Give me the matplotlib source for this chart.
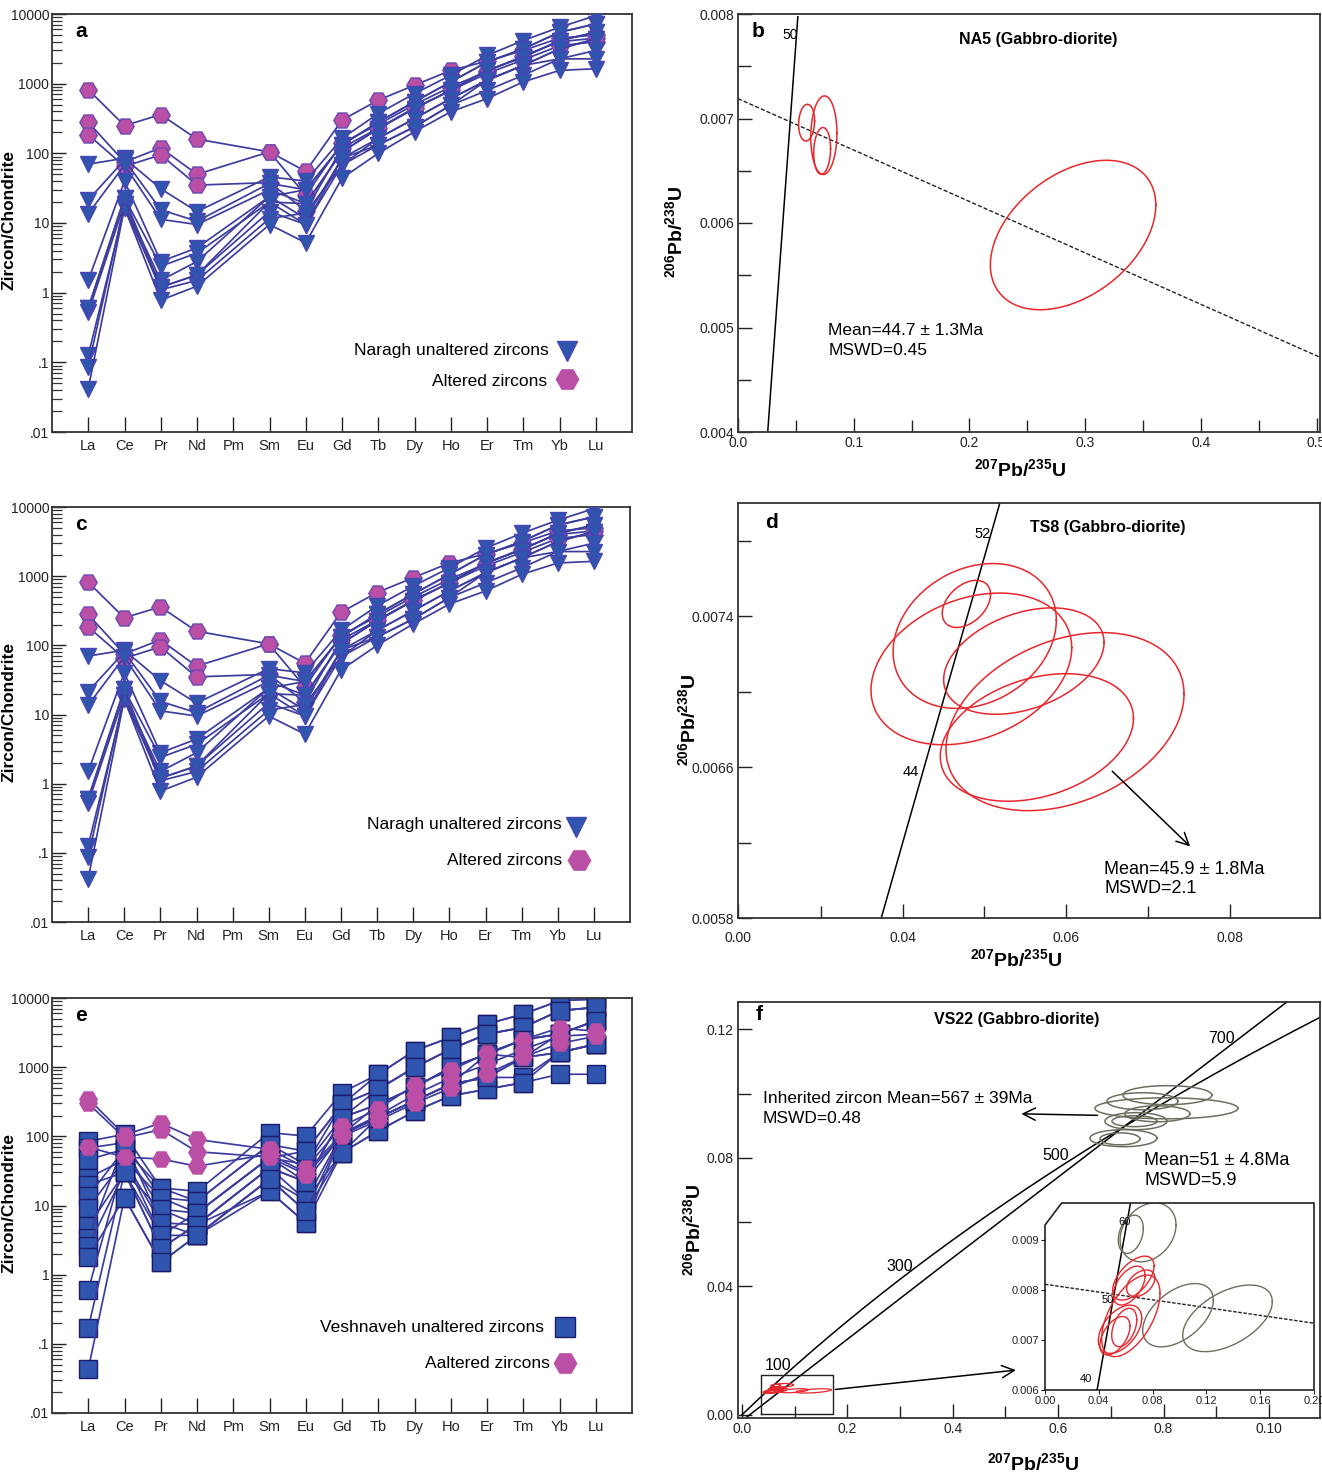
import numpy as np
import matplotlib
matplotlib.use('Agg')
import matplotlib.pyplot as plt
from matplotlib.ticker import LogLocator, NullFormatter, FixedLocator

plt.rcParams['font.family'] = ['Liberation Sans', 'DejaVu Sans']
plt.rcParams['mathtext.fontset'] = 'custom'
plt.rcParams['mathtext.rm'] = 'Liberation Sans'
plt.rcParams['mathtext.bf'] = 'Liberation Sans:bold'
plt.rcParams['mathtext.it'] = 'Liberation Sans:italic'

# ---------------------------------------------------------------- data
elements = ['La', 'Ce', 'Pr', 'Nd', 'Pm', 'Sm', 'Eu', 'Gd', 'Tb', 'Dy',
            'Ho', 'Er', 'Tm', 'Yb', 'Lu']
measured = ['La', 'Ce', 'Pr', 'Nd', 'Sm', 'Eu', 'Gd', 'Tb', 'Dy',
            'Ho', 'Er', 'Tm', 'Yb', 'Lu']          # Pm not analysed

naragh_unaltered = [
    [70, 85, 31, 14.6, 46, 40, 164, 372, 720, 1320, 2540, 4160, 6450, 9470],
    [21.5, 80, 15.5, 10.6, 37, 30, 132, 281, 550, 1060, 2040, 3160, 5470, 7200],
    [13.6, 68, 11.3, 9.5, 30, 19, 105, 226, 440, 800, 1550, 2400, 4160, 5470],
    [1.5, 40, 2.8, 4.4, 24, 30, 132, 281, 550, 1060, 2040, 3160, 5470, 7200],
    [0.6, 23, 2.4, 3.7, 20, 19, 105, 226, 440, 800, 1550, 2400, 4160, 5470],
    [0.52, 19, 1.5, 2.8, 24, 11.6, 85, 164, 316, 610, 1120, 1830, 3160, 4400],
    [0.126, 16.5, 1.2, 1.8, 14.6, 9.5, 68, 164, 316, 610, 1120, 1830, 3160, 4400],
    [0.086, 19, 1.1, 1.5, 11.6, 13.9, 68, 132, 240, 490, 800, 1320, 2270, 3000],
    [0.042, 16.5, 0.78, 1.24, 9.5, 5.2, 44, 100, 204, 395, 610, 1060, 1550, 1640],
    [0.6, 23, 1.2, 1.8, 20, 9.5, 85, 132, 240, 490, 1120, 1830, 2270, 2270],
]
naragh_altered = [
    [820, 250, 360, 160, 105, 55, 300, 580, 950, 1550, 2100, 3000, 4500, 5000],
    [280, 75, 120, 50, 105, 25, 140, 260, 500, 900, 1500, 2500, 4000, 4500],
    [185, 65, 95, 35, 38, 15, 120, 230, 450, 800, 1400, 2200, 3500, 4000],
]
veshnaveh_unaltered = [
    [85, 107, 18, 16, 113, 101, 430, 790, 1730, 2700, 4200, 5860, 9150, 9670],
    [68, 81, 13, 11.5, 76, 61, 290, 480, 990, 1820, 3010, 3760, 6550, 7320],
    [46, 65, 8.8, 7.8, 49, 39, 187, 290, 510, 990, 1540, 1380, 3010, 4690],
    [25, 46, 5.6, 5.3, 35, 22, 107, 187, 325, 570, 710, 710, 1630, 2150],
    [20, 30, 3.7, 3.7, 24, 12, 58, 120, 230, 385, 480, 600, 790, 790],
    [13.7, 65, 18, 11.5, 76, 39, 290, 790, 1730, 2700, 4200, 5860, 9150, 9670],
    [9.2, 46, 13, 7.8, 49, 22, 187, 480, 990, 1820, 3010, 3760, 6550, 7320],
    [5.0, 30, 8.8, 5.3, 35, 12, 107, 290, 510, 990, 1540, 2500, 3010, 4690],
    [3.4, 81, 5.6, 3.7, 24, 8.3, 58, 187, 325, 570, 710, 1380, 1630, 2150],
    [2.6, 30, 2.4, 5.3, 16, 5.6, 58, 120, 230, 385, 480, 600, 1630, 2150],
    [1.8, 13, 1.5, 3.7, 16, 5.6, 107, 187, 325, 570, 1540, 2500, 3010, 4690],
    [0.6, 46, 3.7, 7.8, 49, 61, 290, 480, 990, 1820, 3010, 3760, 6550, 7320],
    [0.17, 30, 2.4, 5.3, 35, 22, 187, 290, 510, 990, 1540, 2500, 3010, 4690],
    [0.043, 13, 1.5, 3.7, 24, 8.3, 107, 187, 325, 570, 710, 1380, 1630, 2150],
]
veshnaveh_altered = [
    [350, 105, 155, 90, 65, 35, 140, 250, 550, 900, 1600, 2500, 3700, 3300],
    [300, 95, 125, 60, 50, 28, 100, 170, 300, 500, 800, 1400, 2200, 2800],
    [70, 50, 47, 37, 55, 30, 110, 200, 400, 700, 1100, 1800, 2800, 3000],
]
ree_ticks = [0.01, 0.1, 1, 10, 100, 1000, 10000]
ree_ticklabels = ['.01', '.1', '1', '10', '100', '1000', '10000']

# U-Pb error ellipses: centre x (207/235), centre y (206/238), half-widths, correlation
b_cx = [0.0593, 0.0742, 0.0727, 0.2896]
b_cy = [0.00696, 0.00684, 0.00669, 0.005885]
b_sx = [0.0069, 0.0113, 0.0073, 0.0715]
b_sy = [0.000176, 0.000376, 0.000224, 0.000715]
b_rho = [0.1, 0.05, 0.1, 0.40]
b_discordia_x = [0.0, 0.502]
b_discordia_y = [0.00719, 0.00472]
b_concordia_ages = [20.0, 51.2]

d_cx = [0.0478, 0.04882, 0.04841, 0.05482, 0.05985, 0.05641]
d_cy = [0.007465, 0.007295, 0.0071205, 0.007162, 0.006841, 0.006757]
d_sx = [0.00295, 0.00997, 0.01226, 0.0098, 0.01454, 0.0118]
d_sy = [0.000125, 0.000384, 0.000402, 0.000282, 0.000472, 0.000338]
d_rho = [0.4, 0.22, 0.28, 0.35, 0.31, 0.30]
d_concordia_ages = [30.0, 60.0]

f_g_cx = [0.8074, 0.760, 0.8055, 0.7476, 0.7448, 0.7239, 0.7173, 0.7884]
f_g_cy = [0.0995, 0.0976, 0.0954, 0.0914, 0.0914, 0.0861, 0.0859, 0.0937]
f_g_sx = [0.0844, 0.0674, 0.1357, 0.0588, 0.0427, 0.0636, 0.038, 0.0617]
f_g_sy = [0.00296, 0.00265, 0.00327, 0.00265, 0.00171, 0.00265, 0.00187, 0.00249]
f_concordia_ages = [0.0, 800.0]
f_line2_x = [0.002, 0.382, 1.034]
f_line2_y = [-0.0016, 0.0466, 0.1285]

# young grains (inset of f)
i_g_cx = [0.0638, 0.0766, 0.0989, 0.1357]
i_g_cy = [0.009122, 0.009162, 0.0075, 0.007437]
i_g_sx = [0.0093, 0.0208, 0.02625, 0.0333]
i_g_sy = [0.000384, 0.000591, 0.000635, 0.000668]
i_g_rho = [0.3, 0.25, 0.48, 0.5]
i_r_cx = [0.0657, 0.0626, 0.0712, 0.0638, 0.0558, 0.0589, 0.052]
i_r_cy = [0.008244, 0.008094, 0.00814, 0.007487, 0.007218, 0.007253, 0.007088]
i_r_sx = [0.0154, 0.0118, 0.0105, 0.0217, 0.0161, 0.0093, 0.0112]
i_r_sy = [0.00044, 0.00039, 0.000267, 0.000818, 0.000484, 0.000385, 0.000385]
i_r_rho = [0.56, 0.5, 0.4, 0.55, 0.46, 0.4, 0.5]
i_discordia_x = [0.0, 0.2]
i_discordia_y = [0.00812, 0.00734]
i_concordia_ages = [30.0, 70.0]

# ---------------------------------------------------------------- style
W, H = 1322, 1473
LINE = '#3d3d9f'
TRI_FC, TRI_EC = '#2f55ad', '#4646b4'
HEX_FC, HEX_EC = '#ba4fa5', '#6a4ab4'
SQ_FC, SQ_EC = '#2f55ae', '#1c1c6c'
RED = '#e8262b'
GREY = '#6e6e5e'
SPINE = '#333333'

L238, L235 = 1.55125e-4, 9.8485e-4   # decay constants per Ma

fig = plt.figure(figsize=(W / 100, H / 100), dpi=100)


def add_ax(l, r, t, b):
    return fig.add_axes([l / W, 1 - b / H, (r - l) / W, (b - t) / H])


def style_spines(ax, lw=1.3):
    for s in ax.spines.values():
        s.set_color(SPINE)
        s.set_linewidth(lw)


def concordia(ages):
    t = np.linspace(ages[0], ages[1], 400)
    return np.expm1(L235 * t), np.expm1(L238 * t)


def ellipse(ax, cx, cy, sx, sy, rho, color, lw=1.1):
    t = np.linspace(0, 2 * np.pi, 240)
    for x0, y0, a, b, r in zip(cx, cy, sx, sy, rho):
        x = x0 + a * np.cos(t)
        y = y0 + b * (r * np.cos(t) + np.sqrt(1 - r * r) * np.sin(t))
        ax.plot(x, y, color=color, lw=lw)


pos = [elements.index(e) for e in measured]


def ree_panel(ax, letter, unaltered, altered, umark, ums, ufc, uec,
              uname, aname, leg, altered_on_top, hex_ec):
    def draw(series, mk, ms, fc, ec, z):
        for s in series:
            ax.plot(pos, s, color=LINE, lw=1.25, marker=mk, ms=ms, mfc=fc,
                    mec=ec, mew=1.0, zorder=z)
    if altered_on_top:
        draw(unaltered, umark, ums, ufc, uec, 2)
        draw(altered, 'H', 12.5, HEX_FC, hex_ec, 3)
    else:
        draw(altered, 'H', 12.5, HEX_FC, hex_ec, 2)
        draw(unaltered, umark, ums, ufc, uec, 3)
    ax.set_yscale('log')
    ax.set_ylim(0.01, 10000)
    ax.set_xlim(-1.0, 15.0)
    ax.set_yticks(ree_ticks)
    ax.set_yticklabels(ree_ticklabels)
    ax.yaxis.set_minor_locator(LogLocator(base=10, subs=np.arange(2, 10)))
    ax.yaxis.set_minor_formatter(NullFormatter())
    ax.set_xticks(range(len(elements)))
    ax.set_xticklabels(elements)
    ax.tick_params(axis='y', which='major', direction='in', length=10,
                   width=1.0, labelsize=10, pad=2, colors='#222222')
    ax.tick_params(axis='y', which='minor', direction='in', length=7,
                   width=0.9, colors='#333333')
    ax.tick_params(axis='x', which='major', direction='in', length=11,
                   width=1.0, labelsize=10.5, pad=5, colors='#222222')
    ax.tick_params(axis='x', which='minor', length=0)
    ax.set_ylabel('Zircon/Chondrite', fontsize=12.5, fontweight='bold')
    ax.yaxis.set_label_coords(-0.062, 0.507)
    ax.text(0.040, 0.957, letter, transform=ax.transAxes, fontsize=15,
            fontweight='bold', va='center', ha='left')
    (tx1, ty1, mx1, my1), (tx2, ty2, mx2, my2) = leg
    ax.text(tx1, ty1, uname, transform=ax.transAxes, ha='right',
            va='center', fontsize=12.5)
    ax.plot([mx1], [my1], transform=ax.transAxes, marker=umark,
            ms=ums + 2, mfc=ufc, mec=uec, mew=1.0, clip_on=False, ls='none')
    ax.text(tx2, ty2, aname, transform=ax.transAxes, ha='right',
            va='center', fontsize=12.5)
    ax.plot([mx2], [my2], transform=ax.transAxes, marker='H', ms=16,
            mfc=HEX_FC, mec=HEX_FC, mew=1.0, clip_on=False, ls='none')
    style_spines(ax)


PBU_Y = r'$^{\mathbf{206}}\mathbf{Pb/}^{\mathbf{238}}\mathbf{U}$'
PBU_X = r'$^{\mathbf{207}}\mathbf{Pb/}^{\mathbf{235}}\mathbf{U}$'

# ---------------------------------------------------------------- a
ax_a = add_ax(52, 632, 14, 432)
ree_panel(ax_a, 'a', naragh_unaltered, naragh_altered, 'v', 12, TRI_FC,
          TRI_EC, 'Naragh unaltered zircons', 'Altered zircons',
          [(0.857, 0.196, 0.888, 0.194), (0.853, 0.122, 0.888, 0.127)],
          False, HEX_EC)

# ---------------------------------------------------------------- c
ax_c = add_ax(52, 630, 507, 922)
ree_panel(ax_c, 'c', naragh_unaltered, naragh_altered, 'v', 12, TRI_FC,
          TRI_EC, 'Naragh unaltered zircons', 'Altered zircons',
          [(0.882, 0.234, 0.907, 0.229), (0.882, 0.149, 0.912, 0.149)],
          False, HEX_EC)

# ---------------------------------------------------------------- e
ax_e = add_ax(52, 632, 998, 1413)
ree_panel(ax_e, 'e', veshnaveh_unaltered, veshnaveh_altered, 's', 13,
          SQ_FC, SQ_EC, 'Veshnaveh unaltered zircons', 'Aaltered zircons',
          [(0.848, 0.207, 0.884, 0.207), (0.858, 0.120, 0.884, 0.120)],
          True, HEX_FC)

# ---------------------------------------------------------------- b
ax_b = add_ax(738, 1320, 14, 432)
cx, cy = concordia(b_concordia_ages)
ax_b.plot(cx, cy, color='k', lw=1.1)
ax_b.plot(b_discordia_x, b_discordia_y, color='#222222', lw=1.0,
          ls=(0, (3, 1.5)))
ellipse(ax_b, b_cx, b_cy, b_sx, b_sy, b_rho, RED)
ax_b.set_xlim(0.0, 0.503)
ax_b.set_ylim(0.004, 0.008)
ax_b.set_xticks([0.0, 0.1, 0.2, 0.3, 0.4, 0.5])
ax_b.set_xticklabels(['0.0', '0.1', '0.2', '0.3', '0.4', '0.5'])
ax_b.xaxis.set_minor_locator(FixedLocator([0.05, 0.15, 0.25, 0.35, 0.45]))
ax_b.set_yticks([0.004, 0.005, 0.006, 0.007, 0.008])
ax_b.set_yticklabels(['0.004', '0.005', '0.006', '0.007', '0.008'])
ax_b.yaxis.set_minor_locator(FixedLocator([0.0045, 0.0055, 0.0065, 0.0075]))
ax_b.text(0.024, 0.957, 'b', transform=ax_b.transAxes, fontsize=15,
          fontweight='bold', va='center')
ax_b.text(0.515, 0.938, 'NA5 (Gabbro-diorite)', transform=ax_b.transAxes,
          fontsize=11.5, fontweight='bold', ha='center', va='center')
ax_b.text(0.089, 0.950, '50', transform=ax_b.transAxes, fontsize=10,
          ha='center', va='center')
ax_b.text(0.155, 0.242, 'Mean=44.7 \u00b1 1.3Ma', transform=ax_b.transAxes,
          fontsize=12.5, va='center')
ax_b.text(0.155, 0.194, 'MSWD=0.45', transform=ax_b.transAxes,
          fontsize=12.5, va='center')
ax_b.set_ylabel(PBU_Y, fontsize=14)
ax_b.yaxis.set_label_coords(-0.09, 0.478)
ax_b.set_xlabel(PBU_X, fontsize=14)
ax_b.xaxis.set_label_coords(0.485, -0.062)

# ---------------------------------------------------------------- d
ax_d = add_ax(738, 1320, 503, 918)
cx, cy = concordia(d_concordia_ages)
ax_d.plot(cx, cy, color='k', lw=1.1)
ellipse(ax_d, d_cx, d_cy, d_sx, d_sy, d_rho, RED)
d_xmin, d_xmax = 0.0199, 0.0910
ax_d.set_xlim(d_xmin, d_xmax)
ax_d.set_ylim(0.0058, 0.0080)
ax_d.set_xticks([d_xmin, 0.04, 0.06, 0.08])
ax_d.set_xticklabels(['0.00', '0.04', '0.06', '0.08'])
ax_d.xaxis.set_minor_locator(FixedLocator([0.03, 0.05, 0.07]))
ax_d.set_yticks([0.0058, 0.0066, 0.0074])
ax_d.set_yticklabels(['0.0058', '0.0066', '0.0074'])
ax_d.yaxis.set_minor_locator(FixedLocator([0.0062, 0.0070, 0.0078]))
ax_d.annotate('', xy=(0.07538, 0.006169), xytext=(0.06538, 0.006588),
              arrowprops=dict(arrowstyle='->', lw=1.1, color='k',
                              mutation_scale=22))
ax_d.text(0.046, 0.952, 'd', transform=ax_d.transAxes, fontsize=15,
          fontweight='bold', va='center')
ax_d.text(0.636, 0.940, 'TS8 (Gabbro-diorite)', transform=ax_d.transAxes,
          fontsize=11.5, fontweight='bold', ha='center', va='center')
ax_d.text(0.421, 0.925, '52', transform=ax_d.transAxes, fontsize=10.5,
          ha='center', va='center')
ax_d.text(0.297, 0.352, '44', transform=ax_d.transAxes, fontsize=10.5,
          ha='center', va='center')
ax_d.text(0.629, 0.118, 'Mean=45.9 \u00b1 1.8Ma', transform=ax_d.transAxes,
          fontsize=13, va='center')
ax_d.text(0.629, 0.070, 'MSWD=2.1', transform=ax_d.transAxes,
          fontsize=13, va='center')
ax_d.set_ylabel(PBU_Y, fontsize=14)
ax_d.yaxis.set_label_coords(-0.066, 0.477)
ax_d.set_xlabel(PBU_X, fontsize=14)
ax_d.xaxis.set_label_coords(0.478, -0.072)

# ---------------------------------------------------------------- f
ax_f = add_ax(738, 1320, 1002, 1418)
cx, cy = concordia(f_concordia_ages)
ax_f.plot(cx, cy, color='k', lw=1.1)
ax_f.plot(f_line2_x, f_line2_y, color='k', lw=1.1)
ellipse(ax_f, f_g_cx, f_g_cy, f_g_sx, f_g_sy, [0] * len(f_g_cx), GREY, lw=1.1)
ellipse(ax_f, i_g_cx + i_r_cx, i_g_cy + i_r_cy, i_g_sx + i_r_sx,
        i_g_sy + i_r_sy, i_g_rho + i_r_rho, RED, lw=0.9)
rect_x = [0.037, 0.172, 0.172, 0.037, 0.037]
rect_y = [0.0003, 0.0003, 0.0125, 0.0125, 0.0003]
ax_f.plot(rect_x, rect_y, color='#222222', lw=1.0)
ax_f.set_xlim(-0.0076, 1.097)
ax_f.set_ylim(-0.001, 0.1285)
ax_f.set_xticks([0.0, 0.2, 0.4, 0.6, 0.8, 1.0])
ax_f.set_xticklabels(['0.0', '0.2', '0.4', '0.6', '0.8', '0.10'])
ax_f.xaxis.set_minor_locator(FixedLocator([0.1, 0.3, 0.5, 0.7, 0.9]))
ax_f.set_yticks([0.0, 0.04, 0.08, 0.12])
ax_f.set_yticklabels(['0.00', '0.04', '0.08', '0.12'])
ax_f.yaxis.set_minor_locator(FixedLocator([0.06, 0.10]))
ax_f.annotate('', xy=(0.525, 0.0937), xytext=(0.68, 0.0932),
              arrowprops=dict(arrowstyle='->', lw=1.1, color='k',
                              mutation_scale=22))
ax_f.annotate('', xy=(0.525, 0.0140), xytext=(0.172, 0.0078),
              arrowprops=dict(arrowstyle='->', lw=1.1, color='k',
                              mutation_scale=22))
ax_f.text(0.031, 0.971, 'f', transform=ax_f.transAxes, fontsize=15,
          fontweight='bold', va='center')
ax_f.text(0.479, 0.957, 'VS22 (Gabbro-diorite)', transform=ax_f.transAxes,
          fontsize=11.5, fontweight='bold', ha='center', va='center')
ax_f.text(0.043, 0.767, 'Inherited zircon Mean=567 \u00b1 39Ma',
          transform=ax_f.transAxes, fontsize=12.5, va='center')
ax_f.text(0.043, 0.721, 'MSWD=0.48', transform=ax_f.transAxes,
          fontsize=12.5, va='center')
ax_f.text(0.698, 0.618, 'Mean=51 \u00b1 4.8Ma', transform=ax_f.transAxes,
          fontsize=13, va='center')
ax_f.text(0.698, 0.570, 'MSWD=5.9', transform=ax_f.transAxes,
          fontsize=13, va='center')
for lab, xx, yy in [('700', 0.830, 0.913), ('500', 0.546, 0.632),
                    ('300', 0.278, 0.365), ('100', 0.069, 0.127)]:
    ax_f.text(xx, yy, lab, transform=ax_f.transAxes, fontsize=11.5,
              ha='center', va='center')
ax_f.set_ylabel(PBU_Y, fontsize=14)
ax_f.yaxis.set_label_coords(-0.058, 0.452)
ax_f.set_xlabel(PBU_X, fontsize=14)
ax_f.xaxis.set_label_coords(0.507, -0.083)

for ax in (ax_b, ax_d, ax_f):
    ax.tick_params(which='both', direction='in', labelsize=10, pad=3,
                   colors='#222222', width=1.0)
    ax.tick_params(which='major', length=10)
    ax.tick_params(which='minor', length=9)
    style_spines(ax)
ax_d.tick_params(axis='x', which='major', pad=9)

# ---------------------------------------------------------------- inset of f
ax_i = add_ax(1045, 1314, 1203, 1390)
ax_i.set_facecolor('white')
cx, cy = concordia(i_concordia_ages)
ax_i.plot(cx, cy, color='k', lw=1.1)
ax_i.plot(i_discordia_x, i_discordia_y, color='#222222', lw=1.0,
          ls=(0, (2.5, 1.2)))
ellipse(ax_i, i_g_cx, i_g_cy, i_g_sx, i_g_sy, i_g_rho, GREY, lw=1.0)
ellipse(ax_i, i_r_cx, i_r_cy, i_r_sx, i_r_sy, i_r_rho, RED, lw=1.0)
ax_i.set_xlim(0.0, 0.2)
ax_i.set_ylim(0.006, 0.00975)
ax_i.set_xticks([0.0, 0.04, 0.08, 0.12, 0.16, 0.20])
ax_i.set_xticklabels(['0.00', '0.04', '0.08', '0.12', '0.16', '0.20'])
ax_i.set_yticks([0.006, 0.007, 0.008, 0.009])
ax_i.set_yticklabels(['0.006', '0.007', '0.008', '0.009'])
ax_i.tick_params(direction='out', length=3, labelsize=8, pad=1,
                 colors='#222222')
for s in ax_i.spines.values():
    s.set_visible(False)
ax_i.plot([0.0, 1.0, 1.0, 0.062, 0.0, 0.0], [0.0, 0.0, 1.0, 1.0, 0.882, 0.0],
          transform=ax_i.transAxes, color='#222222', lw=1.2, clip_on=False)
for lab, xx, yy in [('60', 0.295, 0.897), ('50', 0.232, 0.481),
                    ('40', 0.152, 0.060)]:
    ax_i.text(xx, yy, lab, transform=ax_i.transAxes, fontsize=8,
              ha='center', va='center')

fig.savefig('out.png', dpi=100, facecolor='white')
